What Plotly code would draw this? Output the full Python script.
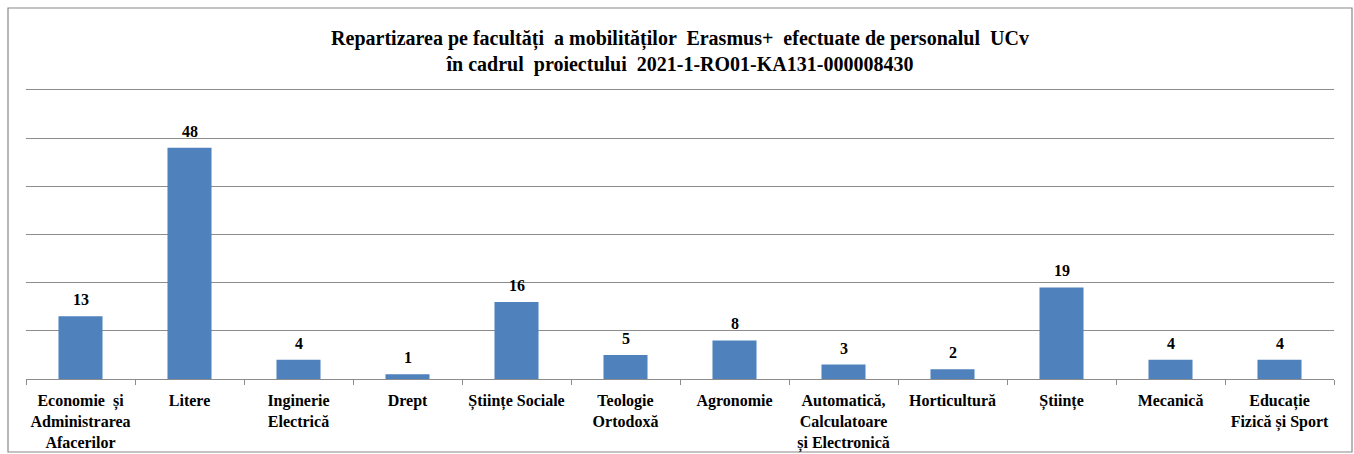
import plotly.graph_objects as go

categories = [
    "Economie  și<br>Administrarea<br>Afacerilor",
    "Litere",
    "Inginerie<br>Electrică",
    "Drept",
    "Științe Sociale",
    "Teologie<br>Ortodoxă",
    "Agronomie",
    "Automatică,<br>Calculatoare<br>și Electronică",
    "Horticultură",
    "Științe",
    "Mecanică",
    "Educație<br>Fizică și Sport",
]
values = [13, 48, 4, 1, 16, 5, 8, 3, 2, 19, 4, 4]
title_text = ("Repartizarea pe facultăți  a mobilităților  Erasmus+  efectuate de personalul  UCv"
              "<br>în cadrul  proiectului  2021-1-RO01-KA131-000008430")

SERIF = "Liberation Serif"
BAR = "#4F81BD"
GRID = "#8C8C8C"

fig = go.Figure()
fig.add_trace(go.Bar(
    x=categories, y=values,
    marker=dict(color=BAR, line=dict(width=0)),
    hoverinfo="x+y",
))

for c, v in zip(categories, values):
    fig.add_annotation(
        x=c, y=v, text=f"<b>{v}</b>", showarrow=False,
        yanchor="bottom", yshift=6,
        font=dict(family=SERIF, size=16, color="#000000"),
    )

fig.update_layout(
    width=1354, height=454,
    margin=dict(l=26, r=20, t=85, b=75, autoexpand=False),
    paper_bgcolor="white", plot_bgcolor="white",
    bargap=0.596,
    showlegend=False,
    title=dict(
        text=f"<b>{title_text}</b>",
        x=0.5, xref="paper", y=1 - 45 / 454, yref="container",
        xanchor="center", yanchor="middle",
        font=dict(family=SERIF, size=20, color="#000000"),
    ),
    font=dict(family=SERIF, color="#000000"),
    shapes=[dict(
        type="rect", xref="paper", yref="paper",
        x0=-0.01376, x1=1.01376, y0=-0.2483, y1=1.2619,
        line=dict(color="#888888", width=1.2), fillcolor="rgba(0,0,0,0)",
        layer="below",
    )],
)

fig.update_xaxes(
    showline=True, linecolor=GRID, linewidth=1.2,
    ticks="outside", tickson="boundaries", ticklen=5, tickcolor=GRID,
    tickwidth=1.2, ticklabelstandoff=7, automargin=False,
    tickfont=dict(family=SERIF, size=16, color="#000000"),
    tickprefix="<b>", ticksuffix="</b>",
    showgrid=False, tickangle=0,
)
fig.update_yaxes(
    range=[0, 61], tick0=0, dtick=10, showticklabels=False,
    showgrid=True, gridcolor=GRID, gridwidth=1.2, automargin=False,
    zeroline=False, showline=False, ticks="",
)

fig.write_html(
    "out.html",
    config={"displayModeBar": False},
    post_script="document.body.style.margin='0px';document.body.style.padding='0px';",
)
